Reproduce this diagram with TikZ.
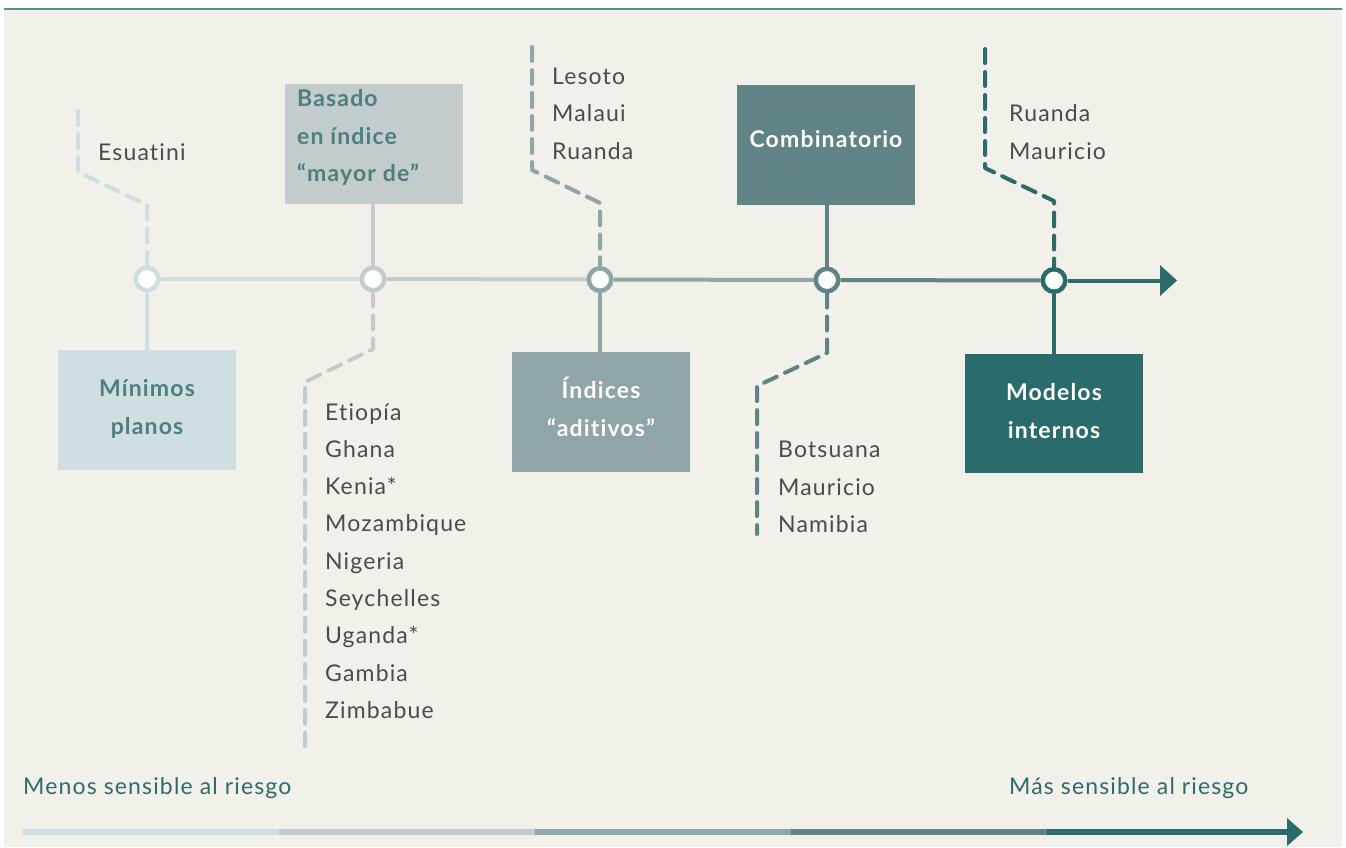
\documentclass[tikz,border=0pt]{standalone}
\usepackage{fontspec}
\setmainfont{Lato}[LetterSpace=5,Ligatures=NoCommon]
\usetikzlibrary{arrows.meta}
\definecolor{bg}{HTML}{F1F0E9}
\definecolor{topc}{HTML}{5E8E8A}
\definecolor{ca}{HTML}{CFDEE0}
\definecolor{cb}{HTML}{C3CCCC}
\definecolor{cc}{HTML}{8FA5A7}
\definecolor{cd}{HTML}{608485}
\definecolor{ce}{HTML}{2A6B6C}
\definecolor{txtg}{HTML}{4B4B4B}
\definecolor{txtt}{HTML}{4E7E7F}
\definecolor{lbl}{HTML}{2E6B6B}
\begin{document}
\begin{tikzpicture}[x=1pt,y=-1pt,
  stagebox/.style={draw=none,minimum width=178pt,minimum height=120pt,inner sep=0pt},
  boxtext/.style={font=\fontsize{23}{38}\selectfont\bfseries,inner sep=0pt,anchor=base},
  cnt/.style={font=\fontsize{23}{38}\selectfont,text=txtg,inner sep=0pt,anchor=base west},
  sidelbl/.style={font=\fontsize{23}{38}\selectfont,text=lbl,inner sep=0pt,anchor=base west},
  stopc/.style={circle,draw,fill=white,line width=4.5pt,minimum size=22.5pt,inner sep=0pt},
  link/.style={line width=4pt},
  dline/.style={line width=4pt,dash pattern=on 14pt off 9pt,line cap=round,line join=round},
  bar/.style={line width=5.5pt}]
\useasboundingbox (0,0) rectangle (1346,847);
\fill[white] (0,0) rectangle (1346,847);
\fill[bg] (4,9) rectangle (1342,847);
\draw[topc,line width=1.5pt] (4,9) -- (1342,9);

% boxes
\node[stagebox,fill=ca] (b1) at (147,410) {};
\node[stagebox,fill=cb] (b2) at (374,144) {};
\node[stagebox,fill=cc] (b3) at (601,412) {};
\node[stagebox,fill=cd] (b4) at (826,145) {};
\node[stagebox,fill=ce,minimum height=119pt] (b5) at (1054,413.5) {};

% box texts
\node[boxtext,text=txtt] (t1a) at (147,396) {Mínimos};
\node[boxtext,text=txtt] (t1b) at (147,434) {planos};
\node[boxtext,text=txtt,anchor=base west] (t2a) at (297,106) {Basado};
\node[boxtext,text=txtt,anchor=base west] (t2b) at (297,144) {en índice};
\node[boxtext,text=txtt,anchor=base west] (t2c) at (297,181) {“mayor de”};
\node[boxtext,text=white] (t3a) at (601,398) {Índices};
\node[boxtext,text=white] (t3b) at (601,436) {“aditivos”};
\node[boxtext,text=white] (t4a) at (826,147) {Combinatorio};
\node[boxtext,text=white] (t5a) at (1054,400) {Modelos};
\node[boxtext,text=white] (t5b) at (1054,438) {internos};

% stops
\node[stopc,draw=ca] (s1) at (147,279) {};
\node[stopc,draw=cb] (s2) at (373,279) {};
\node[stopc,draw=cc] (s3) at (600,279.5) {};
\node[stopc,draw=cd] (s4) at (827,280) {};
\node[stopc,draw=ce] (s5) at (1054,280.5) {};
\coordinate (mend) at (1177,280.5);

% main line
\draw[link,ca] (s1) -- (s2);
\draw[link,cb] (s2) -- (s3);
\draw[link,cc] (s3) -- (s4);
\draw[link,cd] (s4) -- (s5);
\draw[link,ce,-{Triangle[length=17pt,width=30pt]}] (s5) -- (mend);

% solid connectors
\draw[link,ca] (b1.north -| s1) -- (s1);
\draw[link,cb] (b2.south -| s2) -- (s2);
\draw[link,cc] (s3) -- (b3.north -| s3);
\draw[link,cd] (b4.south -| s4) -- (s4);
\draw[link,ce] (s5) -- (b5.north -| s5);

% dashed paths
\coordinate (d1a) at (78,111);
\coordinate (d1b) at (78,172);
\coordinate (d1c) at (147,205);
\draw[dline,ca] (d1a) -- (d1b) -- (d1c) -- (s1.north);

\coordinate (d2a) at (373,349);
\coordinate (d2b) at (305,382);
\coordinate (d2c) at (305,746);
\draw[dline,cb] (s2.south) -- (d2a) -- (d2b) -- (d2c);

\coordinate (d3a) at (532,47);
\coordinate (d3b) at (532,170);
\coordinate (d3c) at (600,203);
\draw[dline,cc] (d3a) -- (d3b) -- (d3c) -- (s3.north);

\coordinate (d4a) at (827,353);
\coordinate (d4b) at (757,386);
\coordinate (d4c) at (757,534);
\draw[dline,cd] (s4.south) -- (d4a) -- (d4b) -- (d4c);

\coordinate (d5a) at (985,49);
\coordinate (d5b) at (985,168);
\coordinate (d5c) at (1054,201);
\draw[dline,ce] (d5a) -- (d5b) -- (d5c) -- (s5.north);

% country lists
\node[cnt] (esw) at (98,160) {Esuatini};

\node[cnt] (lso) at (552,84) {Lesoto};
\node[cnt] (mwi) at (552,121) {Malaui};
\node[cnt] (rwa1) at (552,159) {Ruanda};

\node[cnt] (rwa2) at (1009,121) {Ruanda};
\node[cnt] (mus2) at (1009,159) {Mauricio};

\foreach \c [count=\i] in {Etiopía,Ghana,Kenia*,Mozambique,Nigeria,Seychelles,Uganda*,Gambia,Zimbabue}
  \node[cnt] (lst\i) at (325,{420+37.3*(\i-1)}) {\c};

\node[cnt] (bwa) at (778,457) {Botsuana};
\node[cnt] (mus1) at (778,495) {Mauricio};
\node[cnt] (nam) at (778,532) {Namibia};

% bottom scale
\node[sidelbl] (less) at (23,794) {Menos sensible al riesgo};
\node[sidelbl] (more) at (1009,794) {Más sensible al riesgo};

\coordinate (q0) at (23,832);
\coordinate (q1) at (279,832);
\coordinate (q2) at (535,832);
\coordinate (q3) at (791,832);
\coordinate (q4) at (1047,832);
\coordinate (q5) at (1303,832);
\draw[bar,ca] (q0) -- (q1);
\draw[bar,cb] (q1) -- (q2);
\draw[bar,cc] (q2) -- (q3);
\draw[bar,cd] (q3) -- (q4);
\draw[bar,ce,-{Triangle[length=16pt,width=27pt]}] (q4) -- (q5);
\end{tikzpicture}
\end{document}
